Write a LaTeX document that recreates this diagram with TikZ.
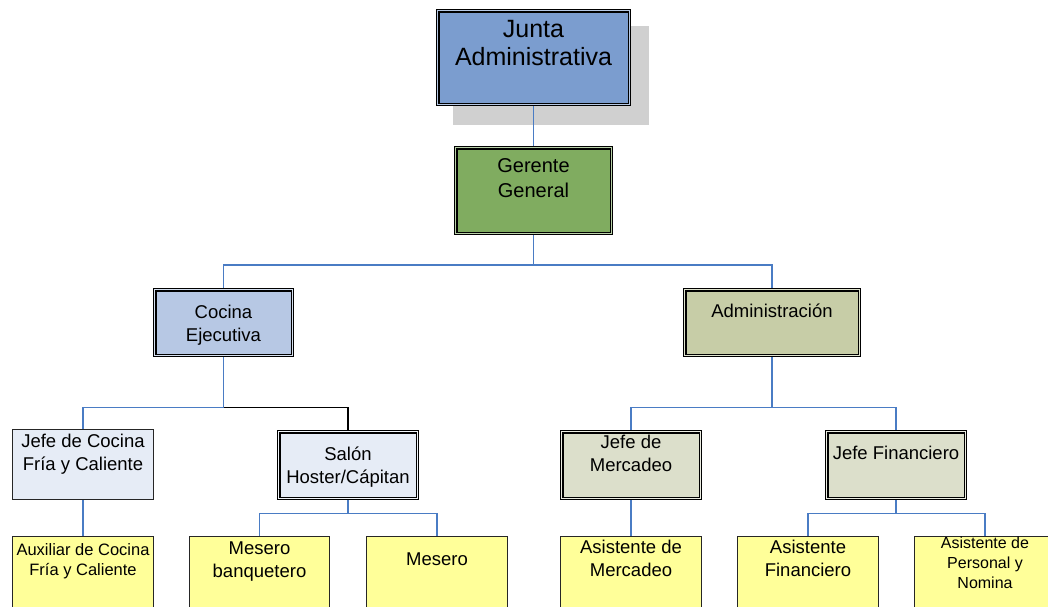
\documentclass[tikz,border=0pt]{standalone}
\usepackage{fontspec}
\setmainfont{Liberation Sans}
\usepackage{xcolor}
\usepackage{tikz}
\usetikzlibrary{backgrounds}

\definecolor{juntablue}{RGB}{123,157,207}
\definecolor{gerentegreen}{RGB}{128,172,96}
\definecolor{cocinablue}{RGB}{183,200,228}
\definecolor{adminolive}{RGB}{199,205,167}
\definecolor{jefeolive}{RGB}{220,223,203}
\definecolor{paleblue}{RGB}{230,236,246}
\definecolor{paleyellow}{RGB}{255,255,153}
\definecolor{shadowgray}{RGB}{208,208,208}
\definecolor{linkblue}{RGB}{74,124,196}

\newcommand{\cell}[4]{\parbox[c][#2pt][t]{#1pt}{\centering\rule{0pt}{#3pt}#4}}

\tikzset{
  dbox/.style={draw=black, line width=1.05pt, double=#1!55!white, double distance=1.5pt, fill=#1, inner sep=0pt},
  sbox/.style={draw=black!85, line width=1.1pt, fill=#1, inner sep=0pt},
  conn/.style={draw=linkblue, line width=1.35pt},
}

\begin{document}
\begin{tikzpicture}[x=1pt, y=-1pt, font=\fontsize{18.5}{23}\selectfont]
\useasboundingbox (0,0) rectangle (1048,606);
\clip (0,0) rectangle (1048,606);

\node[dbox=juntablue, font=\fontsize{25}{28.5}\selectfont] (junta) at (533.5,57.5) {\cell{191.6}{93.6}{26.3}{Junta\\Administrativa}};
\node[dbox=gerentegreen, font=\fontsize{20}{25}\selectfont] (gerente) at (533.5,190.5) {\cell{155.6}{85.6}{24.3}{Gerente\\General}};

\node[dbox=cocinablue] (cocina) at (223.5,322.5) {\cell{137.6}{65.6}{28.3}{Cocina\\Ejecutiva}};
\node[dbox=adminolive] (admin) at (772,322.5) {\cell{174.6}{65.6}{27.6}{Administración}};

\node[sbox=paleblue] (jefecocina) at (83,464.5) {\cell{141}{70}{17.5}{Jefe de Cocina\\Fría y Caliente}};
\node[dbox=paleblue] (salon) at (348,465) {\cell{138.6}{66.6}{28.3}{Salón\\Hoster/Cápitan}};
\node[dbox=jefeolive] (mercadeo) at (631,465) {\cell{138.6}{66.6}{16.6}{Jefe de\\Mercadeo}};
\node[dbox=jefeolive] (financiero) at (896,465) {\cell{138.6}{66.6}{27.6}{Jefe Financiero}};

\node[sbox=paleyellow, font=\fontsize{16.5}{20}\selectfont] (auxiliar) at (83,572) {\cell{141}{71}{19.2}{Auxiliar de Cocina\\Fría y Caliente}};
\node[sbox=paleyellow] (banquetero) at (259.5,572) {\cell{140}{71}{17.5}{Mesero\\banquetero}};
\node[sbox=paleyellow] (mesero) at (437,572) {\cell{141}{71}{29.2}{Mesero}};
\node[sbox=paleyellow] (asismercadeo) at (631,572) {\cell{141}{71}{16.8}{Asistente de\\Mercadeo}};
\node[sbox=paleyellow] (asisfinanciero) at (808,572) {\cell{141}{71}{16.8}{Asistente\\Financiero}};
\node[sbox=paleyellow, font=\fontsize{16}{20}\selectfont] (personal) at (985,572) {\cell{141}{71}{9.2}{Asistente de\\Personal y\\Nomina}};

\begin{scope}[on background layer]
\fill[shadowgray] (453,26) rectangle (649,125);
\draw[conn] (junta.south) -- (gerente.north);
\draw[conn] (gerente.south) -- ++(0,31) coordinate (gj) -| (cocina.north);
\draw[conn] (gj) -| (admin.north);
\draw[conn] (cocina.south) -- ++(0,51.5) coordinate (cj) -| (jefecocina.north);
\draw[line width=1.35pt] (cj) -| (salon.north);
\draw[conn] (salon.south) -- ++(0,14.5) coordinate (sj) -| (banquetero.north);
\draw[conn] (sj) -| (mesero.north);
\draw[conn] (admin.south) -- ++(0,51.5) coordinate (aj) -| (mercadeo.north);
\draw[conn] (aj) -| (financiero.north);
\draw[conn] (jefecocina.south) -- (auxiliar.north);
\draw[conn] (mercadeo.south) -- (asismercadeo.north);
\draw[conn] (financiero.south) -- ++(0,14.5) coordinate (fj) -| (asisfinanciero.north);
\draw[conn] (fj) -| (personal.north);
\end{scope}
\end{tikzpicture}
\end{document}
